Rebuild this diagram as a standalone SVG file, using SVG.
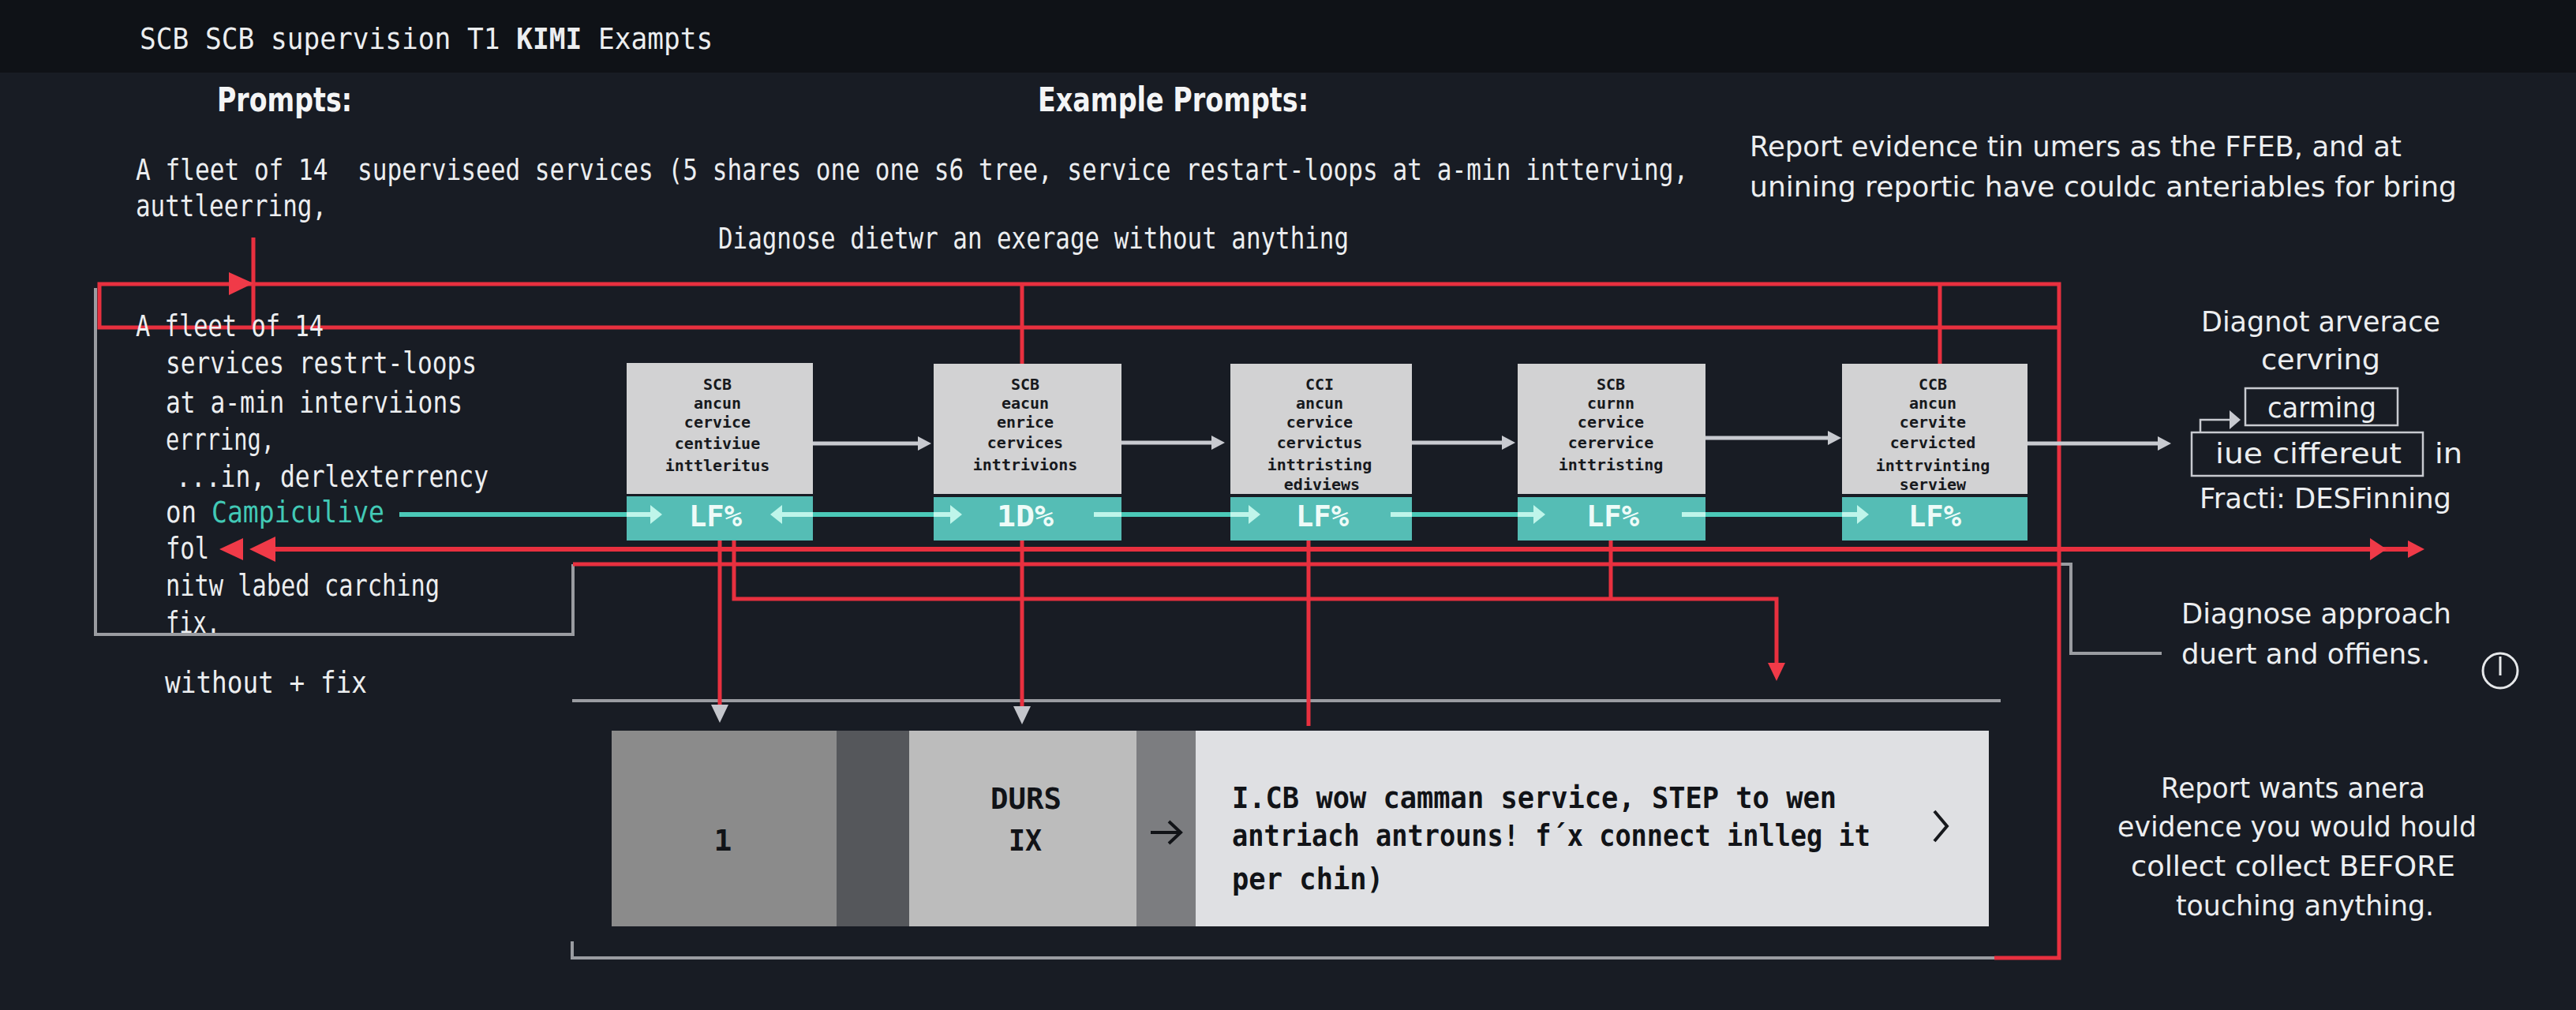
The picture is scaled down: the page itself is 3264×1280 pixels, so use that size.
<svg xmlns="http://www.w3.org/2000/svg" width="3264" height="1280" viewBox="0 0 3264 1280">
<style>
text{font-family:"DejaVu Sans Mono","Liberation Mono",monospace;fill:#eceef0;font-size:37px}
.t{font-family:"DejaVu Sans","Liberation Sans",sans-serif;font-size:36px}
.h{font-family:"DejaVu Sans","Liberation Sans",sans-serif;font-weight:700;font-size:42px;fill:#f4f5f6}
.n{font-size:20px;font-weight:700;fill:#17191d;text-anchor:middle}
.p{font-size:37px;font-weight:700;fill:#111317}
.pc{font-size:38px;font-weight:700;fill:#111317}
.lf{font-size:38px;font-weight:700;fill:#eefbf8}
.gb{fill:#d2d2d3}.tb{fill:#55bdb5}
.r{fill:none;stroke:#e8303f;stroke-width:5}
.g{fill:none;stroke:#c8cad0;stroke-width:5}
.g2{fill:none;stroke:#9a9ca1;stroke-width:4}
.c{fill:none;stroke:#4bc9b8;stroke-width:6}
.cl{fill:none;stroke:#bff5ea;stroke-width:6}
.box{fill:none;stroke:#c8cad0;stroke-width:2.5}
.rh{fill:#f03a48}
</style>
<defs>
<marker id="ag" viewBox="0 -10 18 20" refX="0" refY="0" markerUnits="userSpaceOnUse" markerWidth="18" markerHeight="20" orient="auto"><path d="M0,-9L17,0L0,9z" fill="#c8cad0"/></marker>
<marker id="ac" viewBox="0 -13 16 26" refX="0" refY="0" markerUnits="userSpaceOnUse" markerWidth="16" markerHeight="26" orient="auto-start-reverse"><path d="M0,-12L15,0L0,12z" fill="#bff5ea"/></marker>
<marker id="ad" viewBox="0 -11 24 22" refX="0" refY="0" markerUnits="userSpaceOnUse" markerWidth="24" markerHeight="22" orient="auto"><path d="M0,-11L23,0L0,11z" fill="#c4c6cc"/></marker>
<marker id="ar" viewBox="0 -12 24 24" refX="0" refY="0" markerUnits="userSpaceOnUse" markerWidth="24" markerHeight="24" orient="auto"><path d="M0,-11L23,0L0,11z" fill="#f03a48"/></marker>
</defs>
<rect width="3264" height="1280" fill="#181c24"/>
<rect width="3264" height="92" fill="#0f1217"/>

<g id="headings">
<text transform="translate(177,62) scale(.932,1)" x="0" y="0">SCB SCB supervision T1 <tspan font-weight="700">KIMI</tspan> Exampts</text>
<text class="h" x="275" y="141" textLength="171" lengthAdjust="spacingAndGlyphs">Prompts:</text>
<text class="h" x="1315" y="141" textLength="343" lengthAdjust="spacingAndGlyphs">Example Prompts:</text>
<text xml:space="preserve" transform="translate(172,228) scale(.84,1)" x="0" y="0" textLength="2342" lengthAdjust="spacingAndGlyphs">A fleet of 14  superviseed services (5 shares one one s6 tree, service restart-loops at a-min intterving,</text>
<text x="172" y="274" textLength="242" lengthAdjust="spacingAndGlyphs">auttleerring,</text>
<text x="910" y="315" textLength="799" lengthAdjust="spacingAndGlyphs">Diagnose dietwr an exerage without anything</text>
<text class="t" x="2217" y="198" textLength="826" lengthAdjust="spacingAndGlyphs">Report evidence tin umers as the FFEB, and at</text>
<text class="t" x="2217" y="249" textLength="896" lengthAdjust="spacingAndGlyphs">unining reportic have couldc anteriables for bring</text>
</g>

<g id="node-1">
<rect class="gb" x="794" y="460" width="236" height="166"/><rect class="tb" x="794" y="629" width="236" height="56"/>
<text class="n" x="909" y="494">SCB</text><text class="n" x="909" y="518">ancun</text><text class="n" x="909" y="542">cervice</text><text class="n" x="909" y="569">centiviue</text><text class="n" x="909" y="597">inttleritus</text>
<text class="lf" x="873" y="667" textLength="67" lengthAdjust="spacingAndGlyphs">LF%</text>
</g>
<g id="node-2">
<rect class="gb" x="1183" y="461" width="238" height="165"/><rect class="tb" x="1183" y="630" width="238" height="55"/>
<text class="n" x="1299" y="494">SCB</text><text class="n" x="1299" y="518">eacun</text><text class="n" x="1299" y="542">enrice</text><text class="n" x="1299" y="568">cervices</text><text class="n" x="1299" y="596">inttrivions</text>
<text class="lf" x="1263" y="667" textLength="72" lengthAdjust="spacingAndGlyphs">1D%</text>
</g>
<g id="node-3">
<rect class="gb" x="1559" y="461" width="230" height="165"/><rect class="tb" x="1559" y="630" width="230" height="55"/>
<text class="n" x="1672" y="494">CCI</text><text class="n" x="1672" y="518">ancun</text><text class="n" x="1672" y="542">cervice</text><text class="n" x="1672" y="568">cervictus</text><text class="n" x="1672" y="596">inttristing</text><text class="n" x="1675" y="621">ediviews</text>
<text class="lf" x="1642" y="667" textLength="67" lengthAdjust="spacingAndGlyphs">LF%</text>
</g>
<g id="node-4">
<rect class="gb" x="1923" y="461" width="238" height="165"/><rect class="tb" x="1923" y="630" width="238" height="55"/>
<text class="n" x="2041" y="494">SCB</text><text class="n" x="2041" y="518">curnn</text><text class="n" x="2041" y="542">cervice</text><text class="n" x="2041" y="568">cerervice</text><text class="n" x="2041" y="596">inttristing</text>
<text class="lf" x="2010" y="667" textLength="67" lengthAdjust="spacingAndGlyphs">LF%</text>
</g>
<g id="node-5">
<rect class="gb" x="2334" y="461" width="235" height="165"/><rect class="tb" x="2334" y="630" width="235" height="55"/>
<text class="n" x="2449" y="494">CCB</text><text class="n" x="2449" y="518">ancun</text><text class="n" x="2449" y="542">cervite</text><text class="n" x="2449" y="568">cervicted</text><text class="n" x="2449" y="597">inttrvinting</text><text class="n" x="2449" y="621">serview</text>
<text class="lf" x="2418" y="667" textLength="67" lengthAdjust="spacingAndGlyphs">LF%</text>
</g>

<g id="panel">
<rect x="775" y="926" width="285" height="248" fill="#8b8b8b"/>
<rect x="1060" y="926" width="92" height="248" fill="#55575b"/>
<rect x="1152" y="926" width="288" height="248" fill="#bcbcbc"/>
<rect x="1440" y="926" width="75" height="248" fill="#7c7d80"/>
<rect x="1515" y="926" width="1005" height="248" fill="#dfe0e3"/>
<text class="pc" x="916" y="1078" text-anchor="middle">1</text>
<text class="pc" x="1255" y="1025" textLength="90" lengthAdjust="spacingAndGlyphs">DURS</text>
<text class="pc" x="1278" y="1078" textLength="42" lengthAdjust="spacingAndGlyphs">IX</text>
<path d="M1458,1055H1495M1481,1041L1496,1055L1481,1069" fill="none" stroke="#111317" stroke-width="4"/>
<text class="p" x="1561" y="1024" textLength="766" lengthAdjust="spacingAndGlyphs">I.CB wow camman service, STEP to wen</text>
<text class="p" x="1561" y="1072" textLength="809" lengthAdjust="spacingAndGlyphs">antriach antrouns! f´x connect inlleg it</text>
<text class="p" x="1561" y="1127" textLength="192" lengthAdjust="spacingAndGlyphs">per chin)</text>
<path d="M2451,1028L2467,1047L2451,1066" fill="none" stroke="#17191d" stroke-width="4"/>
</g>

<g id="connectors">
<path class="g2" d="M121,365V804H726V715"/>
<path class="g2" d="M2611,715H2624V828H2739"/>
<path class="g2" d="M725,888H2535"/>
<path class="g2" d="M725,1193V1214H2527"/>
<path class="r" d="M2527,1214H2609V360H126V415H2609"/>
<path class="r" d="M321,301V415"/>
<path class="r" style="stroke-width:6" d="M349,696H3051"/>
<path class="r" d="M726,715H2611"/>
<path class="r" d="M1295,360V461"/>
<path class="r" d="M2458,360V461"/>
<path class="r" d="M912,685V893" marker-end="url(#ad)"/>
<path class="r" d="M1295,685V895" marker-end="url(#ad)"/>
<path class="r" d="M930,685V759H2251V840" marker-end="url(#ar)"/>
<path class="r" d="M1658,685V920"/>
<path class="r" d="M2041,685V759"/>
<polygon class="rh" points="290,345 321,359 290,374"/>
<polygon class="rh" points="278,696 308,682 308,710"/>
<polygon class="rh" points="316,696 349,680 349,712"/>
<polygon class="rh" points="3003,682 3024,696 3003,710"/>
<polygon class="rh" points="3051,685 3072,696 3051,707"/>
<path class="g" d="M1030,562H1163" marker-end="url(#ag)"/>
<path class="g" d="M1421,561H1535" marker-end="url(#ag)"/>
<path class="g" d="M1789,561H1903" marker-end="url(#ag)"/>
<path class="g" d="M2161,555H2316" marker-end="url(#ag)"/>
<path class="g" d="M2569,562H2734" marker-end="url(#ag)"/>
<path class="c" d="M506,652H794"/><path class="cl" d="M794,652H824" marker-end="url(#ac)"/>
<path class="c" d="M1030,652H1183"/><path class="cl" d="M1030,652H991" marker-end="url(#ac)"/><path class="cl" d="M1183,652H1204" marker-end="url(#ac)"/>
<path class="c" d="M1421,652H1559"/><path class="cl" d="M1386,652H1421"/><path class="cl" d="M1559,652H1582" marker-end="url(#ac)"/>
<path class="c" d="M1789,652H1923"/><path class="cl" d="M1762,652H1789"/><path class="cl" d="M1923,652H1943" marker-end="url(#ac)"/>
<path class="c" d="M2161,652H2334"/><path class="cl" d="M2131,652H2161"/><path class="cl" d="M2334,652H2353" marker-end="url(#ac)"/>
<path d="M2788,548V532H2825" fill="none" stroke="#c8cad0" stroke-width="2.5"/>
<polygon points="2825,520 2839,532 2825,544" fill="#c8cad0"/>
</g>

<g id="left-notes">
<text x="172" y="426" textLength="238" lengthAdjust="spacingAndGlyphs">A fleet of 14</text>
<text x="210" y="473" textLength="394" lengthAdjust="spacingAndGlyphs">services restrt-loops</text>
<text x="210" y="523" textLength="376" lengthAdjust="spacingAndGlyphs">at a-min interviions</text>
<text x="210" y="570" textLength="138" lengthAdjust="spacingAndGlyphs">errring,</text>
<text x="223" y="617" textLength="396" lengthAdjust="spacingAndGlyphs">...in, derlexterrency</text>
<text x="210" y="662" textLength="39" lengthAdjust="spacingAndGlyphs">on</text>
<text x="268" y="662" textLength="219" lengthAdjust="spacingAndGlyphs" style="fill:#42c9b6">Campiculive</text>
<text x="210" y="708" textLength="55" lengthAdjust="spacingAndGlyphs">fol</text>
<text x="210" y="755" textLength="347" lengthAdjust="spacingAndGlyphs">nitw labed carching</text>
<text x="210" y="802" textLength="69" lengthAdjust="spacingAndGlyphs">fix.</text>
<text x="209" y="878" textLength="256" lengthAdjust="spacingAndGlyphs">without + fix</text>
</g>

<g id="right-notes">
<text class="t" x="2789" y="420" textLength="303" lengthAdjust="spacingAndGlyphs">Diagnot arverace</text>
<text class="t" x="2865" y="468" textLength="151" lengthAdjust="spacingAndGlyphs">cervring</text>
<rect class="box" x="2845" y="492" width="193" height="47"/>
<text class="t" x="2873" y="529" textLength="138" lengthAdjust="spacingAndGlyphs">carming</text>
<rect class="box" x="2777" y="548" width="293" height="55"/>
<text class="t" x="2807" y="587" textLength="236" lengthAdjust="spacingAndGlyphs">iue ciffereut</text>
<text class="t" x="3085" y="587" textLength="35" lengthAdjust="spacingAndGlyphs">in</text>
<text class="t" x="2787" y="644" textLength="319" lengthAdjust="spacingAndGlyphs">Fracti: DESFinning</text>
<text class="t" x="2764" y="790" textLength="342" lengthAdjust="spacingAndGlyphs">Diagnose approach</text>
<text class="t" x="2764" y="841" textLength="315" lengthAdjust="spacingAndGlyphs">duert and offiens.</text>
<circle cx="3168" cy="850" r="22" fill="none" stroke="#e6e8ea" stroke-width="3"/>
<path d="M3168,832V856" stroke="#e6e8ea" stroke-width="3"/>
<text class="t" x="2738" y="1011" textLength="335" lengthAdjust="spacingAndGlyphs">Report wants anera</text>
<text class="t" x="2683" y="1060" textLength="455" lengthAdjust="spacingAndGlyphs">evidence you would hould</text>
<text class="t" x="2700" y="1110" textLength="411" lengthAdjust="spacingAndGlyphs">collect collect BEFORE</text>
<text class="t" x="2757" y="1160" textLength="327" lengthAdjust="spacingAndGlyphs">touching anything.</text>
</g>
</svg>
